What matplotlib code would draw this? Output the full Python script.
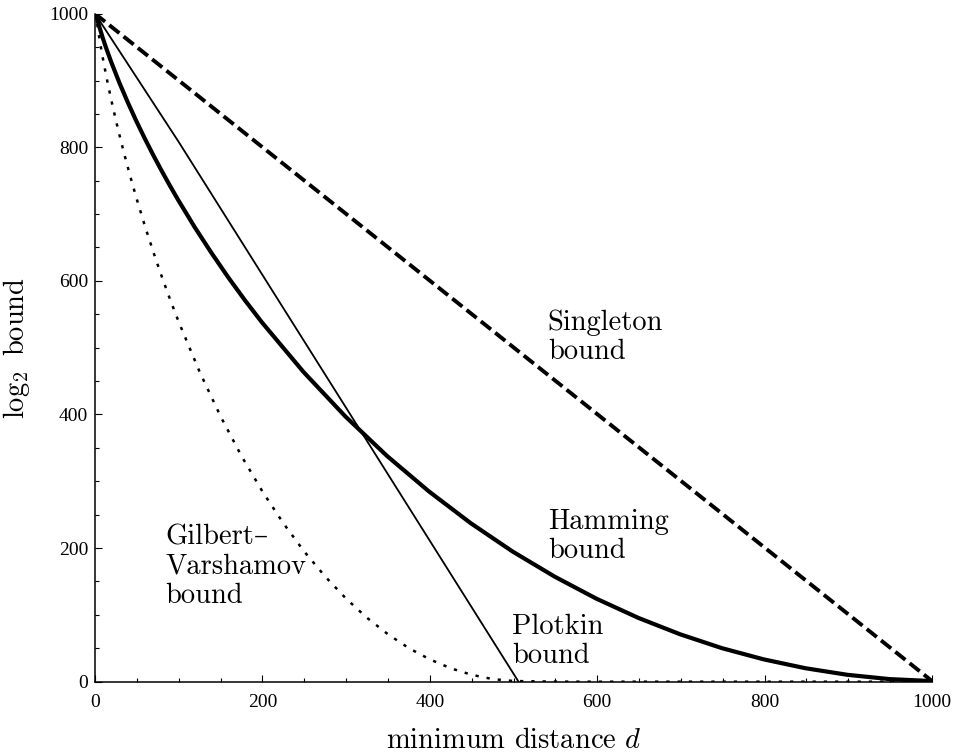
import matplotlib
matplotlib.use("Agg")
import matplotlib.pyplot as plt
from matplotlib.ticker import MultipleLocator

# log2 of each bound on the number of codewords, n = 1000
singleton_d = [0, 1000]
singleton_y = [1000, 1]

hamming_d = [0, 1, 3, 5, 9, 13, 19, 29, 39, 49, 59, 69, 79, 89, 99, 119, 139, 159, 179,
             199, 249, 299, 349, 399, 449, 499, 549, 599, 649, 699, 749, 799, 849, 899,
             949, 999, 1000]
hamming_y = [1000, 1000, 990.0, 981.1, 964.7, 949.7, 928.8, 896.9, 867.7, 840.2, 814.3,
             789.7, 766.2, 743.6, 721.9, 680.6, 642.1, 605.6, 571.2, 538.6, 463.8, 397.2,
             337.8, 284.8, 237.2, 194.8, 157.4, 124.3, 95.6, 71.0, 50.2, 33.4, 20.1, 10.3,
             3.9, 1.0, 0.5]

gv_d = [0, 1, 2, 3, 5, 7, 10, 15, 20, 25, 30, 35, 40, 45, 50, 60, 70, 80, 90, 100, 125,
        150, 175, 200, 225, 250, 275, 300, 325, 350, 375, 400, 425, 450, 475, 500, 550,
        600, 1000]
gv_y = [1000, 1000, 990.0, 981.1, 964.7, 949.7, 928.8, 896.9, 867.7, 840.2, 814.3, 789.7,
        766.2, 743.6, 721.9, 680.6, 642.1, 605.6, 571.2, 538.6, 463.8, 397.2, 337.8,
        284.8, 237.2, 194.8, 157.4, 124.3, 95.6, 71.0, 50.2, 33.4, 20.1, 10.3, 3.9, 1.0,
        0.1, 0, 0]

plotkin_d = [0, 100, 200, 300, 400, 506]
plotkin_y = [1000, 808, 609, 410, 211, 0]

labels = ["Singleton\nbound", "Hamming\nbound", "Gilbert\u2013\nVarshamov\nbound",
          "Plotkin\nbound"]
label_xy = [(541, 557), (541, 259), (84, 236), (498, 102)]

plt.rcParams["mathtext.fontset"] = "cm"
plt.rcParams["axes.unicode_minus"] = False

fig = plt.figure(figsize=(9.55, 7.53), dpi=100)
ax = fig.add_axes([0.0995, 0.0947, 0.8764, 0.8871])

ax.plot(gv_d, gv_y, color="black", lw=1.8, linestyle=(0, (1.3, 3.2)),
        dash_capstyle="butt")
ax.plot(plotkin_d, plotkin_y, color="black", lw=1.3)
ax.plot(hamming_d, hamming_y, color="black", lw=3.0)
ax.plot(singleton_d, singleton_y, color="black", lw=2.8, linestyle=(0, (3.3, 1.4)),
        dash_capstyle="butt")

ax.set_xlim(0, 1000)
ax.set_ylim(0, 1000)

for sp in ["top", "right"]:
    ax.spines[sp].set_visible(False)
for sp in ["left", "bottom"]:
    ax.spines[sp].set_linewidth(1.1)

ax.xaxis.set_major_locator(MultipleLocator(200))
ax.xaxis.set_minor_locator(MultipleLocator(50))
ax.yaxis.set_major_locator(MultipleLocator(200))
ax.yaxis.set_minor_locator(MultipleLocator(50))
ax.tick_params(which="major", direction="in", length=5, width=0.8)
ax.tick_params(which="minor", direction="in", length=3, width=0.8)
ax.tick_params(axis="x", pad=9)
ax.tick_params(axis="y", pad=5)
for lab in ax.get_xticklabels() + ax.get_yticklabels():
    lab.set_family("Liberation Serif")
    lab.set_fontsize(14)

txt_font = ["cmr10", "DejaVu Serif"]
ax.set_xlabel(r"minimum distance $d$", family=txt_font, fontsize=20.5, labelpad=12)
ax.set_ylabel(r"$\log_2$ bound", family=txt_font, fontsize=20.5, labelpad=12)

for s, (x, y) in zip(labels, label_xy):
    ax.text(x, y, s, family=txt_font, fontsize=20.5, va="top", ha="left",
            linespacing=1.15)

fig.savefig("out.png", dpi=100)
